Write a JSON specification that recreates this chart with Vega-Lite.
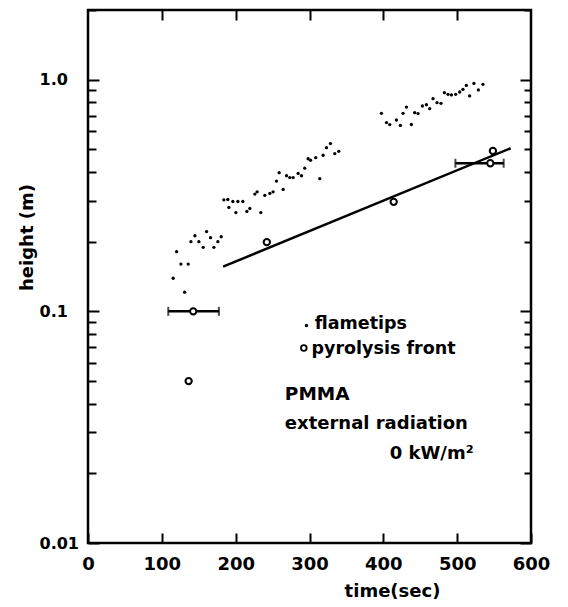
{
  "$schema": "https://vega.github.io/schema/vega-lite/v6.json",
  "width": 443,
  "height": 533,
  "autosize": "none",
  "padding": {"left": 88, "top": 10, "right": 37, "bottom": 64},
  "background": "white",
  "config": {
    "view": {"stroke": "black", "strokeWidth": 2.5},
    "axis": {"domain": false, "grid": false, "ticks": true, "tickColor": "black", "tickWidth": 2, "labelColor": "black", "titleColor": "black", "labelFont": "DejaVu Sans", "labelFontWeight": "bold", "titleFont": "DejaVu Sans", "titleFontWeight": "bold", "labelOverlap": false, "labelFlush": false}
  },
  "datasets": {
    "flame": [
      {"t": 115.4, "h": 0.139}, {"t": 130.9, "h": 0.121}, {"t": 120.0, "h": 0.181}, {"t": 125.8, "h": 0.160},
      {"t": 135.7, "h": 0.160}, {"t": 139.4, "h": 0.200}, {"t": 144.8, "h": 0.212}, {"t": 150.2, "h": 0.200},
      {"t": 156.0, "h": 0.189}, {"t": 160.6, "h": 0.221}, {"t": 166.0, "h": 0.208}, {"t": 170.5, "h": 0.189},
      {"t": 175.9, "h": 0.200}, {"t": 180.4, "h": 0.210},
      {"t": 184.0, "h": 0.303}, {"t": 189.4, "h": 0.304}, {"t": 196.2, "h": 0.298}, {"t": 203.0, "h": 0.298},
      {"t": 209.7, "h": 0.298}, {"t": 190.8, "h": 0.281}, {"t": 200.3, "h": 0.267}, {"t": 215.2, "h": 0.270},
      {"t": 219.2, "h": 0.278}, {"t": 234.1, "h": 0.267}, {"t": 226.0, "h": 0.321}, {"t": 229.1, "h": 0.328},
      {"t": 239.5, "h": 0.317}, {"t": 246.3, "h": 0.323}, {"t": 250.7, "h": 0.328}, {"t": 255.3, "h": 0.365},
      {"t": 258.9, "h": 0.397}, {"t": 264.3, "h": 0.336}, {"t": 268.9, "h": 0.385}, {"t": 273.3, "h": 0.378},
      {"t": 277.8, "h": 0.378}, {"t": 284.6, "h": 0.394}, {"t": 289.2, "h": 0.385}, {"t": 293.6, "h": 0.415},
      {"t": 298.1, "h": 0.456}, {"t": 301.4, "h": 0.449}, {"t": 308.5, "h": 0.461}, {"t": 313.9, "h": 0.374},
      {"t": 318.4, "h": 0.472}, {"t": 323.0, "h": 0.509}, {"t": 328.4, "h": 0.530}, {"t": 334.2, "h": 0.480},
      {"t": 339.6, "h": 0.491},
      {"t": 397.4, "h": 0.716}, {"t": 404.2, "h": 0.653}, {"t": 408.7, "h": 0.640}, {"t": 417.7, "h": 0.670},
      {"t": 423.1, "h": 0.635}, {"t": 426.7, "h": 0.716}, {"t": 431.3, "h": 0.762}, {"t": 438.0, "h": 0.641},
      {"t": 442.5, "h": 0.721}, {"t": 447.0, "h": 0.714}, {"t": 452.9, "h": 0.770}, {"t": 458.3, "h": 0.780},
      {"t": 462.8, "h": 0.750}, {"t": 467.3, "h": 0.828}, {"t": 472.7, "h": 0.796}, {"t": 478.1, "h": 0.791},
      {"t": 482.7, "h": 0.879}, {"t": 487.6, "h": 0.865}, {"t": 492.2, "h": 0.860}, {"t": 498.0, "h": 0.865},
      {"t": 503.4, "h": 0.885}, {"t": 507.8, "h": 0.908}, {"t": 512.4, "h": 0.945}, {"t": 516.9, "h": 0.851},
      {"t": 522.7, "h": 0.964}, {"t": 528.7, "h": 0.904}, {"t": 534.9, "h": 0.955}
    ],
    "pyro": [
      {"t": 142.5, "h": 0.1}, {"t": 136.3, "h": 0.05}, {"t": 242.2, "h": 0.199},
      {"t": 414.0, "h": 0.297}, {"t": 548.4, "h": 0.493}, {"t": 544.9, "h": 0.436}
    ],
    "errbar": [
      {"t": 108.7, "t2": 177.3, "h": 0.1},
      {"t": 497.6, "t2": 563.0, "h": 0.436}
    ],
    "caps": [
      {"t": 108.7, "h": 0.1}, {"t": 177.3, "h": 0.1},
      {"t": 497.6, "h": 0.436}, {"t": 563.0, "h": 0.436}
    ],
    "fit": [
      {"t": 183.0, "h": 0.156}, {"t": 572.4, "h": 0.506}
    ],
    "notes": [
      {"t": 307.2, "h": 0.0839, "label": "flametips", "fs": 17.5},
      {"t": 302.7, "h": 0.0653, "label": "pyrolysis front", "fs": 17.5},
      {"t": 266.6, "h": 0.0416, "label": "PMMA", "fs": 18.5},
      {"t": 266.6, "h": 0.0311, "label": "external radiation", "fs": 18},
      {"t": 408.7, "h": 0.0231, "label": "0 kW/m²", "fs": 18}
    ],
    "legend": [
      {"t": 295.9, "h": 0.0868, "sym": "dot"},
      {"t": 292.3, "h": 0.0695, "sym": "circle"}
    ]
  },
  "resolve": {"axis": {"x": "independent", "y": "independent"}},
  "layer": [
    {
      "data": {"name": "flame"},
      "mark": {"type": "point", "filled": true, "color": "black", "size": 11, "opacity": 1},
      "encoding": {
        "x": {"field": "t", "type": "quantitative",
          "scale": {"domain": [0, 600], "nice": false, "zero": false},
          "axis": {"orient": "bottom", "values": [0, 100, 200, 300, 400, 500, 600], "tickSize": -10, "labelPadding": 22, "labelFontSize": 18,
            "title": "time(sec)", "titleFontSize": 18, "titleX": 304, "titleY": 48, "titleBaseline": "middle", "titleAlign": "center"}},
        "y": {"field": "h", "type": "quantitative",
          "scale": {"type": "log", "domain": [0.01, 2], "nice": false},
          "axis": {"orient": "left",
            "values": [0.01, 0.02, 0.03, 0.04, 0.05, 0.06, 0.07, 0.08, 0.09, 0.1, 0.2, 0.3, 0.4, 0.5, 0.6, 0.7, 0.8, 0.9, 1, 2],
            "tickSize": {"condition": {"test": "datum.value == 1 || datum.value == 0.1 || datum.value == 0.01", "value": -11}, "value": -8},
            "labelExpr": "datum.value == 1 ? '1.0' : datum.value == 0.1 ? '0.1' : datum.value == 0.01 ? '0.01' : ''",
            "labelAlign": "left", "labelPadding": 60, "labelFontSize": 16,
            "title": "height (m)", "titleFontSize": 18, "titleAngle": -90, "titleX": -61, "titleY": 227, "titleBaseline": "middle", "titleAlign": "center"}}
      }
    },
    {
      "data": {"name": "fit"},
      "mark": {"type": "line", "color": "black", "strokeWidth": 2.5},
      "encoding": {
        "x": {"field": "t", "type": "quantitative", "axis": null},
        "y": {"field": "h", "type": "quantitative", "axis": null}
      }
    },
    {
      "data": {"name": "errbar"},
      "mark": {"type": "rule", "color": "black", "strokeWidth": 2.5},
      "encoding": {
        "x": {"field": "t", "type": "quantitative", "axis": null},
        "x2": {"field": "t2"},
        "y": {"field": "h", "type": "quantitative", "axis": null}
      }
    },
    {
      "data": {"name": "caps"},
      "mark": {"type": "tick", "orient": "vertical", "color": "black", "size": 9, "thickness": 2},
      "encoding": {
        "x": {"field": "t", "type": "quantitative", "axis": null},
        "y": {"field": "h", "type": "quantitative", "axis": null}
      }
    },
    {
      "data": {"name": "pyro"},
      "mark": {"type": "point", "filled": false, "fill": "white", "fillOpacity": 1, "stroke": "black", "strokeWidth": 2, "size": 40, "opacity": 1},
      "encoding": {
        "x": {"field": "t", "type": "quantitative",
          "axis": {"orient": "top", "values": [100, 200, 300, 400, 500], "tickSize": -10, "labels": false, "title": null}},
        "y": {"field": "h", "type": "quantitative",
          "axis": {"orient": "right",
            "values": [0.01, 0.02, 0.03, 0.04, 0.05, 0.06, 0.07, 0.08, 0.09, 0.1, 0.2, 0.3, 0.4, 0.5, 0.6, 0.7, 0.8, 0.9, 1, 2],
            "tickSize": {"condition": {"test": "datum.value == 1 || datum.value == 0.1 || datum.value == 0.01", "value": -11}, "value": -7},
            "labels": false, "title": null}}
      }
    },
    {
      "data": {"name": "legend"},
      "transform": [{"filter": "datum.sym == 'dot'"}],
      "mark": {"type": "point", "filled": true, "color": "black", "size": 12, "opacity": 1},
      "encoding": {
        "x": {"field": "t", "type": "quantitative", "axis": null},
        "y": {"field": "h", "type": "quantitative", "axis": null}
      }
    },
    {
      "data": {"name": "legend"},
      "transform": [{"filter": "datum.sym == 'circle'"}],
      "mark": {"type": "point", "filled": false, "stroke": "black", "strokeWidth": 1.8, "size": 32, "opacity": 1},
      "encoding": {
        "x": {"field": "t", "type": "quantitative", "axis": null},
        "y": {"field": "h", "type": "quantitative", "axis": null}
      }
    },
    {
      "data": {"name": "notes"},
      "mark": {"type": "text", "align": "left", "baseline": "alphabetic", "font": "DejaVu Sans", "fontWeight": "bold", "color": "black"},
      "encoding": {
        "x": {"field": "t", "type": "quantitative", "axis": null},
        "y": {"field": "h", "type": "quantitative", "axis": null},
        "text": {"field": "label"},
        "size": {"field": "fs", "type": "quantitative", "scale": null}
      }
    }
  ]
}
